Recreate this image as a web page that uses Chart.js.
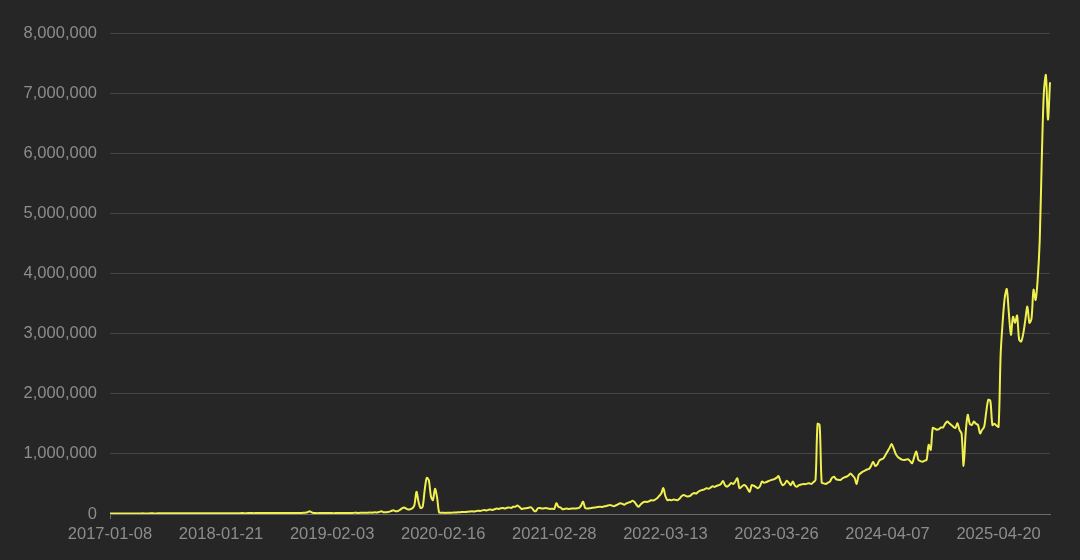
<!DOCTYPE html>
<html>
<head>
<meta charset="utf-8">
<script src="https://cdn.jsdelivr.net/npm/chart.js@4.4.1/dist/chart.umd.min.js"></script>
<style>
  html, body { margin: 0; padding: 0; background: #262626; }
  #wrap { width: 1080px; height: 560px; position: relative; }
</style>
</head>
<body>
<div id="wrap"><canvas id="grafico"></canvas></div>
<script>
/* ── Data ────────────────────────────────────────────────────── */

/** First week of the series; one category per week after it */
const firstWeek = '2017-01-08';

/** Dates that get a label on the x axis */
const tickLabels = [
  '2017-01-08', '2018-01-21', '2019-02-03', '2020-02-16', '2021-02-28',
  '2022-03-13', '2023-03-26', '2024-04-07', '2025-04-20',
];

/** Weekly values, one array per span between two labelled ticks */
const seg2017 = [
  9000, 8500, 9000, 9500, 9000, 8800, 9200, 9600, 9400, 9000,
  9300, 9800, 10000, 9700, 9500, 10200, 10500, 10000, 9800, 10300,
  10800, 10500, 10200, 10600, 11000, 10800, 10500, 11200, 11500, 11000,
  10800, 11300, 11800, 11500, 11200, 11600, 12000, 11800, 11500, 12200,
  12500, 12000, 11800, 12300, 12800, 12500, 12200, 12600, 13000, 12800,
  12500, 13200, 13500, 13000,
];
const seg2018 = [
  13200, 13800, 14000, 13500, 13200, 14200, 14500, 14000, 13800, 14300,
  14800, 14500, 14200, 14600, 15000, 14800, 14500, 15200, 15500, 15000,
  14800, 15300, 15800, 15500, 15200, 15600, 16000, 15800, 15500, 16200,
  16500, 16000, 15800, 16300, 16800, 16500, 16200, 16600, 17000, 18000,
  19000, 22000, 30000, 45000, 28000, 18000, 15000, 14500, 15000, 15500,
  14800, 15200, 15800, 15000,
];
const seg2019 = [
  15000, 14000, 16000, 15000, 17000, 16000, 15000, 18000, 17000, 16000,
  18000, 20000, 19000, 18000, 20000, 22000, 21000, 20000, 24000, 22000,
  25000, 28000, 26000, 35000, 45000, 30000, 28000, 32000, 40000, 55000,
  60000, 45000, 50000, 70000, 95000, 110000, 90000, 75000, 80000, 95000,
  150000, 370000, 200000, 100000, 120000, 400000, 600000, 560000, 300000, 230000,
  420000, 280000, 25000, 20000,
];
const seg2020 = [
  20000, 18000, 20000, 22000, 21000, 25000, 24000, 28000, 30000, 32000,
  35000, 33000, 38000, 42000, 45000, 40000, 48000, 55000, 50000, 60000,
  65000, 58000, 70000, 75000, 68000, 80000, 90000, 85000, 95000, 100000,
  90000, 105000, 110000, 100000, 120000, 120000, 140000, 120000, 85000, 90000,
  95000, 100000, 110000, 105000, 60000, 45000, 95000, 100000, 90000, 95000,
  100000, 90000, 85000, 88000,
];
const seg2021 = [
  85000, 180000, 120000, 110000, 80000, 85000, 90000, 85000, 88000, 92000,
  90000, 95000, 100000, 140000, 205000, 100000, 90000, 95000, 100000, 105000,
  110000, 115000, 120000, 118000, 125000, 130000, 140000, 150000, 140000, 130000,
  145000, 160000, 180000, 170000, 155000, 175000, 190000, 200000, 220000, 200000,
  150000, 120000, 160000, 190000, 205000, 200000, 210000, 230000, 225000, 240000,
  260000, 300000, 340000, 430000,
];
const seg2022 = [
  300000, 230000, 235000, 230000, 240000, 235000, 230000, 260000, 300000, 315000,
  300000, 290000, 300000, 330000, 350000, 340000, 370000, 390000, 400000, 410000,
  430000, 420000, 440000, 460000, 450000, 470000, 480000, 500000, 550000, 480000,
  455000, 480000, 515000, 500000, 540000, 595000, 430000, 450000, 480000, 470000,
  420000, 370000, 480000, 470000, 450000, 430000, 460000, 540000, 520000, 530000,
  545000, 560000, 570000, 580000,
];
const seg2023 = [
  600000, 630000, 540000, 480000, 500000, 555000, 520000, 480000, 540000, 470000,
  455000, 480000, 490000, 500000, 495000, 505000, 510000, 500000, 530000, 565000,
  1500000, 1480000, 520000, 510000, 500000, 520000, 540000, 600000, 620000, 580000,
  570000, 565000, 590000, 610000, 620000, 640000, 675000, 640000, 600000, 500000,
  650000, 680000, 705000, 720000, 740000, 750000, 800000, 870000, 800000, 820000,
  890000, 910000, 925000, 980000,
];
const seg2024 = [
  1040000, 1100000, 1165000, 1090000, 1000000, 950000, 925000, 905000, 900000, 905000,
  910000, 880000, 845000, 950000, 1040000, 900000, 880000, 870000, 885000, 900000,
  1150000, 1065000, 1430000, 1420000, 1400000, 1410000, 1440000, 1440000, 1500000, 1540000,
  1510000, 1480000, 1450000, 1430000, 1510000, 1400000, 1340000, 800000, 1350000, 1650000,
  1500000, 1480000, 1540000, 1500000, 1480000, 1340000, 1400000, 1450000, 1700000, 1900000,
  1880000, 1480000, 1500000, 1470000,
];
const seg2025 = [
  1450000, 2650000, 3200000, 3600000, 3740000, 3340000, 2980000, 3280000, 3180000, 3300000,
  2900000, 2870000, 3000000, 3230000, 3450000, 3180000, 3250000, 3730000, 3560000, 3900000,
  4550000, 5900000, 7000000, 7300000, 6560000, 7180000,
];

const valores = [
  ...seg2017, ...seg2018, ...seg2019, ...seg2020, ...seg2021,
  ...seg2022, ...seg2023, ...seg2024, ...seg2025,
];

/* ── Week labels ─────────────────────────────────────────────── */

function weekLabels(start, count) {
  const out = [];
  const d = new Date(start + 'T00:00:00Z');
  for (let i = 0; i < count; i++) {
    out.push(d.toISOString().slice(0, 10));
    d.setUTCDate(d.getUTCDate() + 7);
  }
  return out;
}

const semanas = weekLabels(firstWeek, valores.length);
const ultimo = semanas.length - 1;

/* ── Chart ───────────────────────────────────────────────────── */

const corTexto = '#8d8d8d';
const fonte = { family: '"Liberation Sans", Arial, sans-serif', size: 16.5 };

// paints the dark background behind the whole canvas
const fundo = {
  id: 'fundo',
  beforeDraw(chart) {
    const { ctx, width, height } = chart;
    ctx.save();
    ctx.fillStyle = '#262626';
    ctx.fillRect(0, 0, width, height);
    ctx.restore();
  },
};

new Chart(document.getElementById('grafico'), {
  type: 'line',
  data: {
    labels: semanas,
    datasets: [{
      data: valores,
      borderColor: '#f0f04e',
      borderWidth: 2,
      pointRadius: 0,
      tension: 0.3,
      fill: false,
    }],
  },
  options: {
    responsive: true,
    maintainAspectRatio: false,
    animation: false,
    layout: { padding: { top: 33, right: 30, bottom: 0, left: 0 } },
    plugins: {
      legend: { display: false },
      tooltip: { enabled: false },
    },
    scales: {
      x: {
        afterFit(scale) { scale.height = 46; },
        border: { color: '#6c6c6c', width: 1 },
        grid: {
          drawOnChartArea: false,
          tickLength: 5,
          color: ctx => (tickLabels.includes(semanas[ctx.index]) || ctx.index === ultimo)
            ? '#6c6c6c' : 'rgba(0,0,0,0)',
        },
        ticks: {
          autoSkip: false,
          maxRotation: 0,
          padding: 6,
          color: corTexto,
          font: fonte,
          // only the labelled weeks get text; the last week keeps just its tick mark
          callback(value, index) {
            const s = semanas[index];
            if (tickLabels.includes(s)) return s;
            if (index === ultimo) return '';
            return null;
          },
        },
      },
      y: {
        min: 0,
        max: 8000000,
        afterFit(scale) { scale.width = 110; },
        border: { display: false },
        grid: { color: '#454545', drawTicks: false },
        ticks: {
          stepSize: 1000000,
          padding: 13,
          color: corTexto,
          font: fonte,
          callback: v => v.toLocaleString('en-US'),
        },
      },
    },
  },
  plugins: [fundo],
});
</script>
</body>
</html>
